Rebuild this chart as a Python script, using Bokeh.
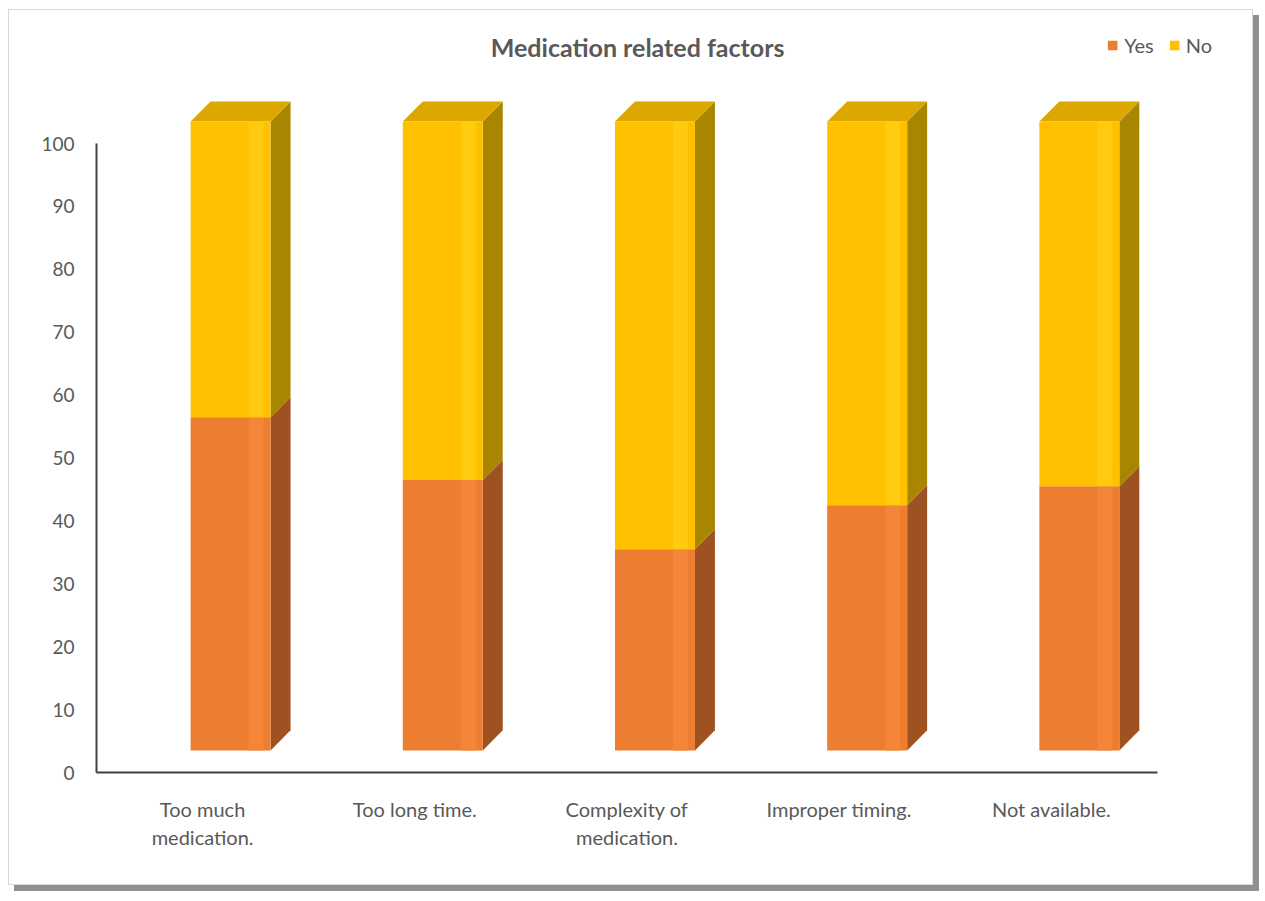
from bokeh.plotting import figure
from bokeh.models import FixedTicker, Label, Legend, LegendItem, Range1d
from bokeh.embed import file_html
from bokeh.resources import INLINE

# ---- data ----
categories = ["Too much\nmedication.", "Too long time.", "Complexity of\nmedication.",
              "Improper timing.", "Not available."]
yes = [53, 43, 32, 39, 42]
no = [47, 57, 68, 61, 58]
y_ticks = [0, 10, 20, 30, 40, 50, 60, 70, 80, 90, 100]

# ---- style / pseudo-3D geometry ----
FLOOR = 3.5
FRONT_OFF = 0.132
FRONT_W = 0.377
DX = 0.094
DY = 3.2
C_YES, C_YES_SIDE, C_YES_HI = "#ED7D31", "#9E5222", "#F4863A"
C_NO, C_NO_SIDE, C_NO_HI, C_NO_TOP = "#FFC000", "#A98600", "#FFCB10", "#DCA800"
FONT = "Lato"
GREY = "#595959"

n = len(categories)
xc = [i + FRONT_OFF for i in range(n)]
yes_bottom = [FLOOR] * n
yes_top = [FLOOR + v for v in yes]
no_top = [t + v for t, v in zip(yes_top, no)]

p = figure(width=1245, height=876, x_range=Range1d(-0.5, 4.783), y_range=Range1d(0, 118.3),
           output_backend="svg", toolbar_location=None,
           min_border_left=87, min_border_right=37, min_border_top=18, min_border_bottom=114)
p.styles = {"margin-left": "8px", "margin-top": "9px", "border": "1px solid #d9d9d9",
            "box-shadow": "6px 6px 0 #8f8f8f"}
p.outline_line_color = None
p.xgrid.grid_line_color = None
p.ygrid.grid_line_color = None
p.background_fill_color = "white"
p.border_fill_color = "white"

# side faces
def side(bottoms, tops):
    xs, ys = [], []
    for x, b, t in zip(xc, bottoms, tops):
        xr = x + FRONT_W / 2
        xs.append([xr, xr + DX, xr + DX, xr])
        ys.append([b, b + DY, t + DY, t])
    return xs, ys

sx, sy = side(yes_bottom, yes_top)
p.patches(sx, sy, fill_color=C_YES_SIDE, line_color=None)
sx, sy = side(yes_top, no_top)
p.patches(sx, sy, fill_color=C_NO_SIDE, line_color=None)

# top faces
tx, ty = [], []
for x, t in zip(xc, no_top):
    xl, xr = x - FRONT_W / 2, x + FRONT_W / 2
    tx.append([xl, xl + DX, xr + DX, xr])
    ty.append([t, t + DY, t + DY, t])
p.patches(tx, ty, fill_color=C_NO_TOP, line_color=None)

# front faces
r_yes = p.vbar(x=xc, width=FRONT_W, bottom=yes_bottom, top=yes_top, fill_color=C_YES, line_color=None)
r_no = p.vbar(x=xc, width=FRONT_W, bottom=yes_top, top=no_top, fill_color=C_NO, line_color=None)
# highlight stripes
hx = [x + 0.12 for x in xc]
p.vbar(x=hx, width=0.07, bottom=yes_bottom, top=yes_top, fill_color=C_YES_HI, line_color=None)
p.vbar(x=hx, width=0.07, bottom=yes_top, top=no_top, fill_color=C_NO_HI, line_color=None)

# axes
xa = p.xaxis[0]
xa.ticker = FixedTicker(ticks=list(range(n)))
xa.major_label_overrides = {i: c for i, c in enumerate(categories)}
xa.bounds = (-0.5, 4.5)
xa.axis_line_color = "#404040"
xa.axis_line_width = 2
xa.major_tick_line_color = None
xa.minor_tick_line_color = None
xa.major_label_standoff = 18
xa.major_label_text_font = FONT
xa.major_label_text_font_size = "20px"
xa.major_label_text_color = GREY

ya = p.yaxis[0]
ya.ticker = FixedTicker(ticks=y_ticks)
ya.bounds = (0, 100)
ya.axis_line_color = "#404040"
ya.axis_line_width = 2
ya.major_tick_line_color = None
ya.minor_tick_line_color = None
ya.major_label_standoff = 16
ya.major_label_text_font = FONT
ya.major_label_text_font_size = "19px"
ya.major_label_text_color = GREY

# title
p.add_layout(Label(x=2.05, y=115.3, text="Medication related factors", text_align="center",
                   text_baseline="middle", text_font=FONT, text_font_size="25px",
                   text_font_style="bold", text_color=GREY))

legend = Legend(items=[LegendItem(label="Yes", renderers=[r_yes]),
                       LegendItem(label="No", renderers=[r_no])],
                orientation="horizontal", location="top_right", margin=5, padding=2,
                spacing=14, glyph_width=12, glyph_height=12, label_standoff=6,
                label_text_font=FONT, label_text_font_size="20px", label_text_color=GREY,
                border_line_color=None, background_fill_alpha=0)
p.add_layout(legend)

open("out.html", "w").write(file_html(p, INLINE))
